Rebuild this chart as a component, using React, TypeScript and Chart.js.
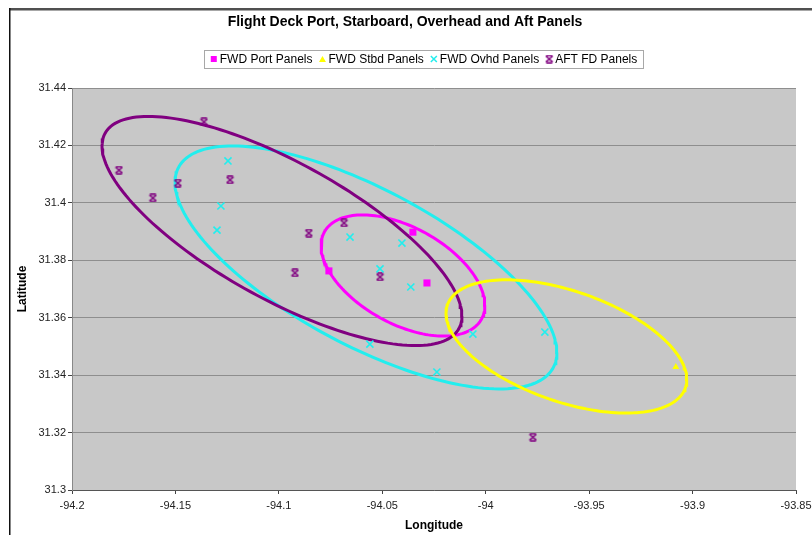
import React, { useEffect, useRef } from 'react';
import { Chart, registerables } from 'chart.js';

Chart.register(...registerables);

const chartTitle = 'Flight Deck Port, Starboard, Overhead and Aft Panels';
const xAxisTitle = 'Longitude';
const yAxisTitle = 'Latitude';

const xTicks = [-94.2, -94.15, -94.1, -94.05, -94, -93.95, -93.9, -93.85];
const xTickLabels = ['-94.2', '-94.15', '-94.1', '-94.05', '-94', '-93.95', '-93.9', '-93.85'];
const yTicks = [31.3, 31.32, 31.34, 31.36, 31.38, 31.4, 31.42, 31.44];
const yTickLabels = ['31.3', '31.32', '31.34', '31.36', '31.38', '31.4', '31.42', '31.44'];

const seriesNames = ['FWD Port Panels', 'FWD Stbd Panels', 'FWD Ovhd Panels', 'AFT FD Panels'];

const portLon = [-94.0758, -94.0284, -94.0352];
const portLat = [31.3763, 31.3721, 31.3898];

const stbdLon = [-93.9081];
const stbdLat = [31.3428];

const ovhdLon = [-94.1246, -94.128, -94.1299, -94.0656, -94.0405, -94.0511, -94.0362, -94.0062, -94.056, -93.9714, -94.0236];
const ovhdLat = [31.4146, 31.3989, 31.3905, 31.3881, 31.386, 31.377, 31.3707, 31.3543, 31.3508, 31.355, 31.3411];

const aftLon = [-94.1362, -94.1773, -94.1609, -94.1488, -94.1236, -94.0855, -94.0685, -94.0922, -94.0511, -93.9772];
const aftLat = [31.4282, 31.4114, 31.4017, 31.4069, 31.408, 31.3895, 31.393, 31.3756, 31.3742, 31.3184];

// ellipse: [centerLon, centerLat, halfWidthLon, halfHeightLat, latDropAtRightmost]
const portEllipse = [-94.04, 31.3747, 0.0396, 0.0211, 0.0104];
const stbdEllipse = [-93.961, 31.35, 0.0582, 0.0232, 0.0115];
const ovhdEllipse = [-94.0579, 31.3775, 0.0923, 0.0423, 0.0296];
const aftEllipse = [-94.0985, 31.3902, 0.087, 0.0399, 0.0296];

const colPort = '#FF00FF';
const colStbd = '#FFFF00';
const colOvhd = '#22EEEE';
const colAft = '#800080';

function ellipsePoints(e: number[]) {
  const [cx, cy, hw, hh, k] = e;
  const s = Math.sqrt(Math.max(hh * hh - k * k, 0));
  const pts: { x: number; y: number }[] = [];
  const n = 180;
  for (let i = 0; i <= n; i++) {
    const t = (i / n) * Math.PI * 2;
    pts.push({ x: cx + hw * Math.cos(t), y: cy - k * Math.cos(t) + s * Math.sin(t) });
  }
  return pts;
}

function zip(xs: number[], ys: number[]) {
  return xs.map((x, i) => ({ x, y: ys[i] }));
}

function makeAftMarker(color: string) {
  const c = document.createElement('canvas');
  c.width = 9;
  c.height = 9;
  const g = c.getContext('2d')!;
  g.strokeStyle = color;
  g.lineWidth = 1.6;
  g.beginPath();
  g.moveTo(1, 1.5); g.lineTo(8, 7.5);
  g.moveTo(8, 1.5); g.lineTo(1, 7.5);
  g.moveTo(1.5, 1); g.lineTo(7.5, 1);
  g.moveTo(1.5, 8); g.lineTo(7.5, 8);
  g.stroke();
  return c;
}

function labelFor(v: number, ticks: number[], labels: string[]) {
  let best = 0;
  for (let i = 0; i < ticks.length; i++) {
    if (Math.abs(ticks[i] - v) < Math.abs(ticks[best] - v)) best = i;
  }
  return labels[best];
}

const FONT = '"Liberation Sans", Arial, sans-serif';

export default function App() {
  const ref = useRef<HTMLCanvasElement | null>(null);

  useEffect(() => {
    document.body.style.margin = '0';
    const canvas = ref.current!;
    const aftMarker = makeAftMarker(colAft);

    const framePlugin = {
      id: 'frameAndBg',
      beforeDraw(chart: any) {
        const { ctx, chartArea } = chart;
        ctx.save();
        ctx.fillStyle = '#ffffff';
        ctx.fillRect(0, 0, chart.width, chart.height);
        ctx.fillStyle = '#C8C8C8';
        ctx.fillRect(chartArea.left, chartArea.top, chartArea.right - chartArea.left, chartArea.bottom - chartArea.top);
        ctx.fillStyle = '#505050';
        ctx.fillRect(9, 8, chart.width - 9, 2.5);
        ctx.fillStyle = '#111111';
        ctx.fillRect(9, 8, 1.5, chart.height - 8);
        ctx.restore();
      },
    };

    const legendPlugin = {
      id: 'titleAndLegend',
      afterDraw(chart: any) {
        const ctx = chart.ctx as CanvasRenderingContext2D;
        ctx.save();
        // title
        ctx.font = 'bold 14px ' + FONT;
        ctx.fillStyle = '#000000';
        ctx.textAlign = 'center';
        ctx.textBaseline = 'middle';
        ctx.fillText(chartTitle, 405, 22);
        // legend
        ctx.font = '12px ' + FONT;
        const widths = seriesNames.map((s) => ctx.measureText(s).width);
        const markerW = 10;
        const gap = 6;
        let total = 0;
        widths.forEach((w, i) => {
          total += markerW + w + (i < widths.length - 1 ? gap : 0);
        });
        const centerX = 423.5;
        const cy = 59;
        const left = centerX - total / 2;
        ctx.fillStyle = '#ffffff';
        ctx.fillRect(left - 6, 50, total + 12, 18);
        ctx.strokeStyle = '#A8A8A8';
        ctx.lineWidth = 1;
        ctx.strokeRect(Math.round(left - 6) + 0.5, 50.5, Math.round(total + 12), 18);
        let x = left;
        seriesNames.forEach((name, i) => {
          const mx = x + 4;
          if (i === 0) {
            ctx.fillStyle = colPort;
            ctx.fillRect(mx - 3, cy - 3, 6, 6);
          } else if (i === 1) {
            ctx.fillStyle = colStbd;
            ctx.beginPath();
            ctx.moveTo(mx, cy - 3);
            ctx.lineTo(mx + 3.5, cy + 3);
            ctx.lineTo(mx - 3.5, cy + 3);
            ctx.closePath();
            ctx.fill();
          } else if (i === 2) {
            ctx.strokeStyle = colOvhd;
            ctx.lineWidth = 1.5;
            ctx.beginPath();
            ctx.moveTo(mx - 3, cy - 3); ctx.lineTo(mx + 3, cy + 3);
            ctx.moveTo(mx + 3, cy - 3); ctx.lineTo(mx - 3, cy + 3);
            ctx.stroke();
          } else {
            ctx.drawImage(aftMarker, mx - 4.5, cy - 4.5);
          }
          ctx.fillStyle = '#000000';
          ctx.textBaseline = 'middle';
          ctx.textAlign = 'left';
          ctx.fillText(name, x + markerW, cy + 0.5);
          x += markerW + widths[i] + gap;
        });
        ctx.restore();
      },
    };

    const ellipseDs = (label: string, e: number[], color: string, order: number) => ({
      type: 'scatter' as const,
      label,
      data: ellipsePoints(e),
      showLine: true,
      borderColor: color,
      borderWidth: 3,
      pointRadius: 0,
      pointHoverRadius: 0,
      tension: 0,
      fill: false,
      order,
    });

    const chart = new Chart(canvas, {
      type: 'scatter',
      data: {
        datasets: [
          {
            label: seriesNames[0],
            data: zip(portLon, portLat),
            pointStyle: 'rect',
            pointRadius: 5,
            pointBackgroundColor: colPort,
            pointBorderColor: colPort,
            pointBorderWidth: 0,
            order: 0,
          },
          {
            label: seriesNames[1],
            data: zip(stbdLon, stbdLat),
            pointStyle: 'triangle',
            pointRadius: 4,
            pointBackgroundColor: colStbd,
            pointBorderColor: colStbd,
            pointBorderWidth: 0,
            order: 0,
          },
          {
            label: seriesNames[2],
            data: zip(ovhdLon, ovhdLat),
            pointStyle: 'crossRot',
            pointRadius: 5,
            pointBackgroundColor: colOvhd,
            pointBorderColor: colOvhd,
            pointBorderWidth: 1.6,
            order: 0,
          },
          {
            label: seriesNames[3],
            data: zip(aftLon, aftLat),
            pointStyle: aftMarker as any,
            pointRadius: 5,
            pointBackgroundColor: colAft,
            pointBorderColor: colAft,
            order: 0,
          },
          ellipseDs('stbdEllipse', stbdEllipse, colStbd, 1),
          ellipseDs('aftEllipse', aftEllipse, colAft, 2),
          ellipseDs('portEllipse', portEllipse, colPort, 3),
          ellipseDs('ovhdEllipse', ovhdEllipse, colOvhd, 4),
        ] as any,
      },
      options: {
        animation: false,
        responsive: false,
        layout: { padding: { left: 0, right: 16, top: 88, bottom: 0 } },
        plugins: {
          legend: { display: false },
          tooltip: { enabled: false },
          title: { display: false },
        },
        scales: {
          x: {
            type: 'linear',
            min: -94.2,
            max: -93.85,
            afterBuildTicks: (scale: any) => {
              scale.ticks = xTicks.map((v) => ({ value: v }));
            },
            afterFit: (scale: any) => {
              scale.height = 45;
              scale.paddingLeft = 0;
              scale.paddingRight = 0;
            },
            ticks: {
              autoSkip: false,
              maxRotation: 0,
              minRotation: 0,
              padding: 5,
              color: '#222222',
              font: { family: FONT, size: 11 },
              callback: (v: any) => labelFor(Number(v), xTicks, xTickLabels),
            },
            grid: {
              drawOnChartArea: false,
              drawTicks: true,
              tickLength: 4,
              tickColor: '#444444',
            },
            border: { display: true, color: '#555555', width: 1 },
            title: {
              display: true,
              text: xAxisTitle,
              color: '#000000',
              font: { family: FONT, size: 12, weight: 'bold' },
              padding: { top: 0, bottom: 2 },
            },
          },
          y: {
            type: 'linear',
            min: 31.3,
            max: 31.44,
            afterBuildTicks: (scale: any) => {
              scale.ticks = yTicks.map((v) => ({ value: v }));
            },
            afterFit: (scale: any) => {
              scale.width = 72;
              scale.paddingTop = 0;
              scale.paddingBottom = 0;
            },
            ticks: {
              autoSkip: false,
              padding: 2,
              color: '#222222',
              font: { family: FONT, size: 11 },
              callback: (v: any) => labelFor(Number(v), yTicks, yTickLabels),
            },
            grid: {
              drawOnChartArea: true,
              drawTicks: true,
              tickLength: 4,
              color: '#8E8E8E',
              tickColor: '#444444',
              lineWidth: 1,
            },
            border: { display: true, color: '#888888', width: 1 },
            title: {
              display: true,
              text: yAxisTitle,
              color: '#000000',
              font: { family: FONT, size: 12, weight: 'bold' },
              padding: { top: 15, bottom: 0 },
            },
          },
        },
      } as any,
      plugins: [framePlugin, legendPlugin],
    });

    return () => {
      chart.destroy();
    };
  }, []);

  return (
    <div style={{ width: 812, height: 535, position: 'relative' }}>
      <canvas ref={ref} width={812} height={535} style={{ display: 'block', width: 812, height: 535 }} />
    </div>
  );
}
